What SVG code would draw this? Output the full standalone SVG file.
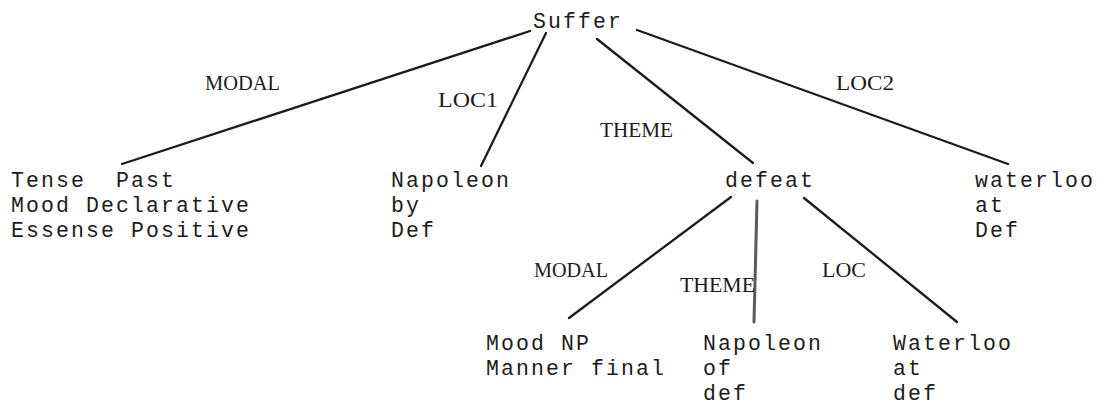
<svg xmlns="http://www.w3.org/2000/svg" width="1114" height="413" viewBox="0 0 1114 413">
  <style>
    .node { font-family: "Liberation Mono", "Courier New", monospace; font-size: 21.5px; letter-spacing: 2.1px; fill: #1c1c1c; }
    .lbl { font-family: "Liberation Serif", "Times New Roman", serif; font-size: 21px; fill: #1c1c1c; }
    .edge { stroke: #1c1c1c; stroke-width: 2.3; stroke-linecap: round; fill: none; }
    .scratch { stroke: #5a5a5a; stroke-width: 3; stroke-linecap: round; fill: none; }
  </style>
  <rect width="1114" height="413" fill="#ffffff"/>

  <!-- tree branches -->
  <g id="connectors">
    <line class="edge" x1="530" y1="31" x2="122" y2="164" stroke-width="2.8"/>
    <line class="edge" x1="546" y1="33" x2="481" y2="166"/>
    <line class="edge" x1="597" y1="39" x2="753" y2="163"/>
    <line class="edge" x1="637" y1="30" x2="1008" y2="164"/>
    <line class="edge" x1="731" y1="197" x2="569" y2="318"/>
    <line class="scratch" x1="757" y1="201" x2="754" y2="322"/>
    <line class="edge" x1="804" y1="198" x2="957" y2="322"/>
  </g>

  <!-- relation names on the branches -->
  <g id="edge-labels">
    <text class="lbl" x="205" y="90" textLength="75" lengthAdjust="spacingAndGlyphs">MODAL</text>
    <text class="lbl" x="438" y="107" textLength="60" lengthAdjust="spacingAndGlyphs">LOC1</text>
    <text class="lbl" x="600" y="137" textLength="73" lengthAdjust="spacingAndGlyphs">THEME</text>
    <text class="lbl" x="836" y="90" textLength="58" lengthAdjust="spacingAndGlyphs">LOC2</text>
    <text class="lbl" x="534" y="277" textLength="74" lengthAdjust="spacingAndGlyphs">MODAL</text>
    <text class="lbl" x="680" y="292" textLength="75" lengthAdjust="spacingAndGlyphs">THEME</text>
    <text class="lbl" x="822" y="277" textLength="44" lengthAdjust="spacingAndGlyphs">LOC</text>
  </g>

  <g id="suffer">
    <text class="node" x="533" y="28">Suffer</text>
  </g>

  <g id="modal-features">
    <text class="node" x="11" y="187" xml:space="preserve">Tense  Past</text>
    <text class="node" x="11" y="212">Mood Declarative</text>
    <text class="node" x="11" y="237">Essense Positive</text>
  </g>

  <g id="loc1-napoleon">
    <text class="node" x="391" y="187">Napoleon</text>
    <text class="node" x="391" y="212">by</text>
    <text class="node" x="391" y="237">Def</text>
  </g>

  <g id="defeat">
    <text class="node" x="725" y="187">defeat</text>
  </g>

  <g id="loc2-waterloo">
    <text class="node" x="975" y="187">waterloo</text>
    <text class="node" x="975" y="212">at</text>
    <text class="node" x="975" y="237">Def</text>
  </g>

  <g id="defeat-modal">
    <text class="node" x="486" y="350">Mood NP</text>
    <text class="node" x="486" y="375">Manner final</text>
  </g>

  <g id="defeat-theme">
    <text class="node" x="703" y="350">Napoleon</text>
    <text class="node" x="703" y="375">of</text>
    <text class="node" x="703" y="400">def</text>
  </g>

  <g id="defeat-loc">
    <text class="node" x="893" y="350">Waterloo</text>
    <text class="node" x="893" y="375">at</text>
    <text class="node" x="893" y="400">def</text>
  </g>
</svg>
